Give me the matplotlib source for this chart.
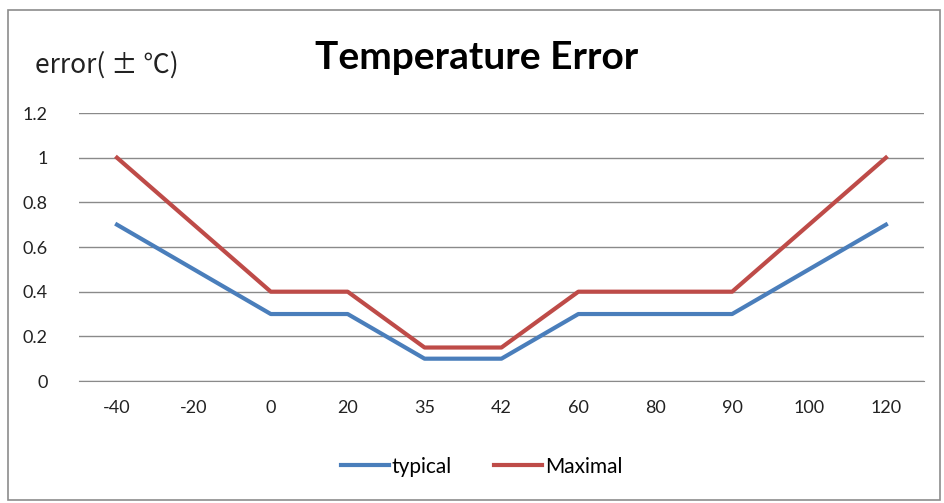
import matplotlib.pyplot as plt
from matplotlib.patches import Rectangle

plt.rcParams['font.family'] = ['Lato', 'Noto Sans CJK SC', 'DejaVu Sans']

categories = ['-40', '-20', '0', '20', '35', '42', '60', '80', '90', '100', '120']
typical = [0.7, 0.5, 0.3, 0.3, 0.1, 0.1, 0.3, 0.3, 0.3, 0.5, 0.7]
maximal = [1.0, 0.7, 0.4, 0.4, 0.15, 0.15, 0.4, 0.4, 0.4, 0.7, 1.0]
yticks = [0, 0.2, 0.4, 0.6, 0.8, 1, 1.2]
ytick_labels = ['0', '0.2', '0.4', '0.6', '0.8', '1', '1.2']

fig = plt.figure(figsize=(9.44, 5.03), dpi=100)
fig.patches.append(Rectangle((8 / 944, 3 / 503), 932 / 944, 490 / 503,
                             transform=fig.transFigure, fill=False,
                             edgecolor='#8c8c8c', linewidth=1.2))
ax = fig.add_axes([0.0832, 0.2425, 0.896, 0.5328])

x = range(len(categories))
ax.plot(x, typical, color='#4A7EBB', linewidth=3, label='typical')
ax.plot(x, maximal, color='#BE4B48', linewidth=3, label='Maximal')

ax.set_xlim(-0.5, len(categories) - 0.5)
ax.set_ylim(0, 1.2)
ax.set_xticks(list(x))
ax.set_xticklabels(categories, fontsize=13)
ax.set_yticks(yticks)
ax.set_yticklabels(ytick_labels, fontsize=13)
ax.yaxis.grid(True, color='#8a8a8a', linewidth=1)
ax.set_axisbelow(True)
for s in ['top', 'right', 'left']:
    ax.spines[s].set_visible(False)
ax.spines['bottom'].set_color('#8a8a8a')
ax.tick_params(length=0, pad=14, colors='#222222')
ax.tick_params(axis='y', pad=22)

fig.text(0.505, 0.885, 'Temperature Error', fontsize=28, fontweight='bold',
         ha='center', va='center', color='black')
fig.text(0.037, 0.87, 'error( ± ℃)', fontsize=19, ha='left', va='center',
         color='#222222', family=['Noto Sans CJK SC', 'DejaVu Sans'])

fig.legend(loc='center', bbox_to_anchor=(0.51, 0.072), ncol=2, frameon=False,
           fontsize=15, handlelength=2.3, columnspacing=2.0, handletextpad=0.15)

fig.savefig('out.png', dpi=100)
